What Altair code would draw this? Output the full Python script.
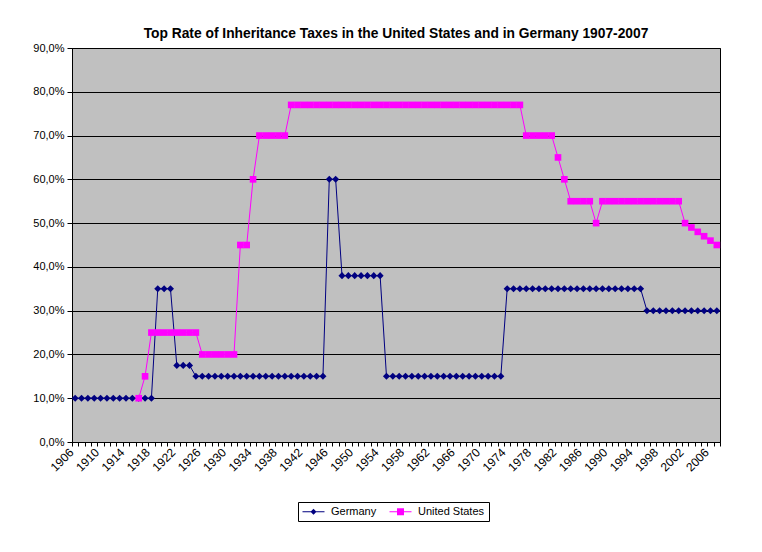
import altair as alt
import pandas as pd

# Categories (years on the x axis)
years = list(range(1906, 2008))

# Germany top rate (%), 1906-2007
germany_rate = [
    10, 10, 10, 10, 10, 10, 10, 10, 10, 10, 10, 10, 10,          # 1906-1918
    35, 35, 35,                                                  # 1919-1921
    17.5, 17.5, 17.5,                                            # 1922-1924
    15, 15, 15, 15, 15, 15, 15, 15, 15, 15, 15, 15, 15, 15, 15,  # 1925-1939
    15, 15, 15, 15, 15, 15,                                      # 1940-1945
    60, 60,                                                      # 1946-1947
    38, 38, 38, 38, 38, 38, 38,                                  # 1948-1954
    15, 15, 15, 15, 15, 15, 15, 15, 15, 15, 15, 15, 15, 15, 15,  # 1955-1969
    15, 15, 15, 15,                                              # 1970-1973
    35, 35, 35, 35, 35, 35, 35, 35, 35, 35, 35, 35, 35, 35, 35,  # 1974-1988
    35, 35, 35, 35, 35, 35, 35,                                  # 1989-1995
    30, 30, 30, 30, 30, 30, 30, 30, 30, 30, 30, 30,              # 1996-2007
]

# United States top rate (%), 1916-2007
us_years = list(range(1916, 2008))
us_rate = [
    10, 15,                                                      # 1916-1917
    25, 25, 25, 25, 25, 25, 25, 25,                              # 1918-1925
    20, 20, 20, 20, 20, 20,                                      # 1926-1931
    45, 45,                                                      # 1932-1933
    60,                                                          # 1934
    70, 70, 70, 70, 70,                                          # 1935-1939
    77, 77, 77, 77, 77, 77, 77, 77, 77, 77, 77, 77, 77, 77, 77,  # 1940-1954
    77, 77, 77, 77, 77, 77, 77, 77, 77, 77, 77, 77, 77, 77, 77,  # 1955-1969
    77, 77, 77, 77, 77, 77, 77,                                  # 1970-1976
    70, 70, 70, 70, 70,                                          # 1977-1981
    65, 60,                                                      # 1982-1983
    55, 55, 55, 55,                                              # 1984-1987
    50,                                                          # 1988
    55, 55, 55, 55, 55, 55, 55, 55, 55, 55, 55, 55, 55,          # 1989-2001
    50, 49, 48, 47, 46, 45,                                      # 2002-2007
]

series_names = ["Germany", "United States"]
series_colors = ["#000080", "#FF00FF"]
y_ticks = [0, 10, 20, 30, 40, 50, 60, 70, 80, 90]

# legend symbols: a line with a marker in the middle
legend_paths = [
    "M-1,-0.1H3.4V0.1H-1Z M1.2,-0.6L1.8,0L1.2,0.6L0.6,0Z",
    "M-1,-0.1H3.4V0.1H-1Z M0.5,-0.7H1.9V0.7H0.5Z",
]

FONT = "Liberation Sans"

de = pd.DataFrame({"year": years, "rate": germany_rate})
us = pd.DataFrame({"year": us_years, "rate": us_rate})
leg = pd.DataFrame({"series": series_names})

x_enc = alt.X(
    "year:O",
    scale=alt.Scale(domain=years, paddingInner=0, paddingOuter=0),
    axis=alt.Axis(
        title=None,
        tickBand="extent",
        labelExpr="(datum.value - 1906) % 4 == 0 ? datum.label : ''",
        labelAngle=315,
        labelAlign="right",
        labelBaseline="middle",
        labelPadding=4,
        labelOffset=-4,
        labelOverlap=False,
        tickSize=4,
        tickColor="black",
        domainColor="black",
        labelFont=FONT,
        labelFontSize=12,
        labelColor="black",
        grid=False,
    ),
)
y_enc = alt.Y(
    "rate:Q",
    scale=alt.Scale(domain=[0, 90], nice=False, zero=True),
    axis=alt.Axis(
        title=None,
        values=y_ticks,
        labelExpr="replace(format(datum.value, '.1f'), '.', ',') + '%'",
        grid=True,
        gridColor="black",
        gridOpacity=1,
        gridWidth=1,
        tickSize=5,
        tickColor="black",
        domainColor="black",
        labelFont=FONT,
        labelFontSize=11,
        labelColor="black",
        labelPadding=3,
    ),
)

de_line = alt.Chart(de).mark_line(strokeWidth=1, color=series_colors[0]).encode(x=x_enc, y=y_enc)
de_pts = alt.Chart(de).mark_point(
    filled=True, shape="diamond", size=50, color=series_colors[0], opacity=1
).encode(x=x_enc, y=y_enc)
us_line = alt.Chart(us).mark_line(strokeWidth=1, color=series_colors[1]).encode(x=x_enc, y=y_enc)
us_pts = alt.Chart(us).mark_point(
    filled=True, shape="square", size=44, color=series_colors[1], opacity=1
).encode(x=x_enc, y=y_enc)

legend_props = dict(
    title=None,
    orient="none",
    legendX=226,
    legendY=454,
    direction="horizontal",
    strokeColor="black",
    fillColor="white",
    padding=4,
    symbolSize=100,
    symbolOpacity=1,
    symbolStrokeWidth=0,
    labelOffset=18,
    labelFont=FONT,
    labelFontSize=11,
    labelColor="black",
    columnPadding=12,
)

leg_layer = alt.Chart(leg).mark_point(filled=True, opacity=0).encode(
    color=alt.Color(
        "series:N",
        scale=alt.Scale(domain=series_names, range=series_colors),
        legend=alt.Legend(**legend_props),
    ),
    shape=alt.Shape(
        "series:N",
        scale=alt.Scale(domain=series_names, range=legend_paths),
        legend=alt.Legend(**legend_props),
    ),
)

chart = (
    alt.layer(de_line, us_line, de_pts, us_pts, leg_layer)
    .properties(
        width=648,
        height=394,
        title=alt.TitleParams(
            "Top Rate of Inheritance Taxes in the United States and in Germany 1907-2007",
            font=FONT,
            fontSize=13.8,
            fontWeight="bold",
            color="black",
            anchor="middle",
            offset=1,
        ),
        autosize=alt.AutoSizeParams(type="none"),
        padding={"left": 64, "top": 40, "right": 34, "bottom": 102},
        background="white",
        view=alt.ViewBackground(fill="#C0C0C0", stroke="black", strokeWidth=1),
    )
)

chart.save("out.html", embed_options={"renderer": "svg", "actions": False})
